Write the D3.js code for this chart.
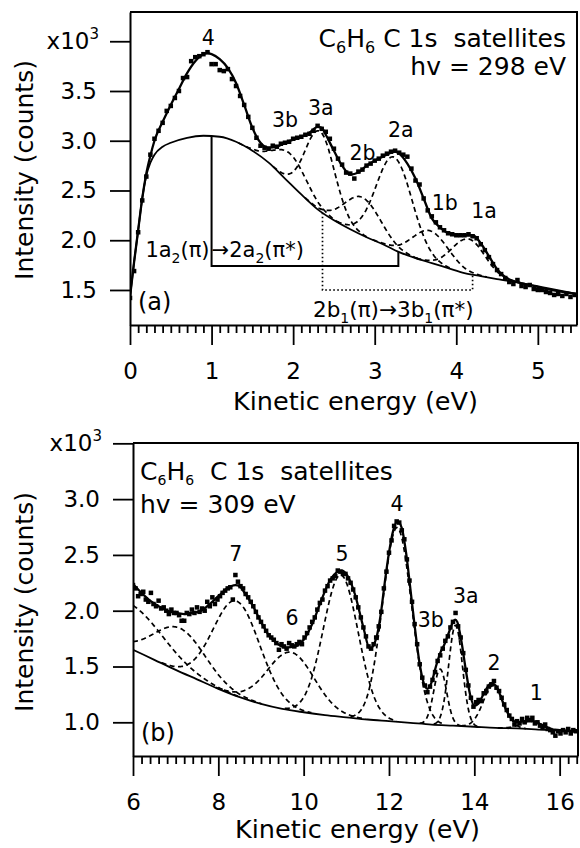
<!DOCTYPE html>
<html>
<head>
<meta charset="utf-8">
<script src="https://cdn.jsdelivr.net/npm/d3@7"></script>
<style>
body { margin: 0; background: #fff; }
text { font-family: "DejaVu Sans", sans-serif; fill: #000; }
</style>
</head>
<body>
<div id="viz"></div>
<script>
var width = 580
var height = 848

// ---------- panel (a): hv = 298 eV, counts x10^3 ----------
var aStep = 0.05
var aCounts = [1.42,1.69,2.08,2.40,2.64,2.86,3.02,3.10,3.18,3.30,
    3.35,3.43,3.50,3.63,3.64,3.80,3.84,3.85,3.87,3.89,
    3.77,3.77,3.71,3.70,3.72,3.62,3.55,3.45,3.36,3.24,
    3.13,3.03,2.95,2.93,2.92,2.95,2.94,2.97,2.98,2.99,
    3.02,3.03,3.04,3.06,3.07,3.10,3.15,3.12,3.09,3.02,
    2.92,2.82,2.76,2.68,2.67,2.62,2.69,2.71,2.75,2.77,
    2.80,2.82,2.85,2.87,2.89,2.90,2.88,2.86,2.84,2.72,
    2.60,2.56,2.42,2.30,2.24,2.18,2.13,2.10,2.07,2.06,
    2.05,2.05,2.05,2.06,2.04,2.02,1.96,1.90,1.83,1.76,
    1.70,1.66,1.62,1.58,1.56,1.60,1.54,1.53,1.55,1.51,
    1.50,1.50,1.48,1.47,1.45,1.46,1.44,1.46,1.43,1.45]
var aFitE = [0,0.05,0.1,0.15,0.2,0.25,0.3,0.4,0.5,0.6,0.7,0.8,0.9,0.95,1.0,1.1,1.2,1.3,1.4,1.5,1.6,1.7,1.8,1.9,2.0,2.1,2.2,2.3,2.35,2.4,2.5,2.6,2.7,2.8,2.9,3.0,3.1,3.2,3.25,3.3,3.4,3.5,3.6,3.7,3.8,3.9,4.0,4.1,4.2,4.3,4.4,4.5,4.6,4.7,4.9,5.1,5.3,5.48]
var aFitI = [1.43,1.78,2.10,2.42,2.67,2.85,3.00,3.19,3.36,3.52,3.68,3.80,3.87,3.88,3.87,3.82,3.73,3.58,3.36,3.13,2.98,2.93,2.94,2.98,3.01,3.04,3.08,3.14,3.13,3.06,2.90,2.75,2.66,2.68,2.75,2.80,2.84,2.88,2.89,2.87,2.77,2.62,2.42,2.22,2.13,2.07,2.05,2.05,2.05,1.97,1.84,1.71,1.63,1.59,1.55,1.51,1.48,1.46]
var aBgE = [0,0.05,0.1,0.15,0.2,0.25,0.3,0.4,0.5,0.7,0.9,1.1,1.3,1.5,1.7,1.9,2.1,2.3,2.5,2.7,2.9,3.1,3.3,3.5,3.7,3.9,4.1,4.3,4.5,4.8,5.1,5.48]
var aBgI = [1.43,1.78,2.10,2.42,2.65,2.78,2.86,2.94,2.98,3.03,3.05,3.04,2.99,2.90,2.78,2.62,2.46,2.31,2.20,2.11,2.03,1.96,1.88,1.82,1.77,1.72,1.67,1.64,1.61,1.57,1.52,1.46]
// fitted satellite components (centre eV, height above background, gaussian width)
var aCompCenter = [1.97, 2.33, 2.85, 3.24, 3.68, 4.15]
var aCompHeight = [0.30, 0.80, 0.38, 0.93, 0.32, 0.35]
var aCompWidth = [0.20, 0.18, 0.22, 0.22, 0.22, 0.20]
var aPeakNames = ["4", "3b", "3a", "2b", "2a", "1b", "1a"]
var aXTicks = [0, 1, 2, 3, 4, 5]
var aYTicks = [1.5, 2.0, 2.5, 3.0, 3.5, 4.0]

// ---------- panel (b): hv = 309 eV ----------
var bStart = 6.0
var bStep = 0.06
var bCounts = [2.23,2.20,2.13,2.15,2.17,2.10,2.08,2.16,2.06,2.04,
    2.09,2.02,2.03,2.00,1.97,2.01,1.98,1.98,1.96,1.91,
    1.91,1.98,1.97,2.01,1.98,2.03,1.99,2.02,2.00,2.08,
    2.04,2.12,2.06,2.10,2.13,2.16,2.18,2.20,2.21,2.10,
    2.32,2.26,2.22,2.20,2.15,2.12,2.08,2.04,1.99,1.94,
    1.90,1.86,1.82,1.78,1.76,1.74,1.71,1.65,1.70,1.68,
    1.66,1.71,1.69,1.68,1.70,1.72,1.70,1.76,1.80,1.85,
    1.90,1.94,2.01,2.07,2.10,2.18,2.22,2.27,2.29,2.31,
    2.36,2.35,2.33,2.33,2.29,2.25,2.19,2.12,2.03,1.94,
    1.85,1.77,1.68,1.66,1.70,1.76,1.86,1.99,2.20,2.35,
    2.52,2.63,2.76,2.80,2.79,2.72,2.64,2.46,2.27,2.08,
    1.88,1.70,1.52,1.40,1.33,1.27,1.32,1.38,1.45,1.55,
    1.60,1.66,1.73,1.77,1.85,1.90,1.98,1.86,1.76,1.62,
    1.47,1.33,1.22,1.14,1.18,1.20,1.19,1.26,1.28,1.32,
    1.34,1.37,1.31,1.28,1.22,1.16,1.11,1.06,1.03,0.98,
    1.01,0.99,1.03,1.00,1.04,1.02,1.04,0.99,1.00,0.97,
    0.95,0.98,0.94,0.93,0.91,0.88,0.92,0.90,0.93,0.91,
    0.94,0.90,0.93,0.92]
var bFitE = [6.0,6.2,6.4,6.6,6.8,7.0,7.2,7.4,7.6,7.8,8.0,8.2,8.4,8.5,8.6,8.8,9.0,9.2,9.4,9.6,9.8,10.0,10.2,10.4,10.6,10.8,10.9,11.0,11.2,11.4,11.55,11.7,11.8,11.9,12.0,12.1,12.2,12.3,12.4,12.5,12.6,12.7,12.8,12.9,13.0,13.1,13.2,13.3,13.4,13.5,13.55,13.6,13.7,13.8,13.9,14.0,14.1,14.2,14.3,14.4,14.5,14.6,14.7,14.8,14.9,15.0,15.2,15.4,15.6,15.8,16.0,16.43]
var bFitI = [2.24,2.16,2.09,2.04,2.00,1.98,1.97,1.98,2.00,2.06,2.13,2.20,2.23,2.22,2.17,2.05,1.90,1.77,1.70,1.67,1.68,1.74,1.88,2.08,2.26,2.35,2.36,2.33,2.15,1.85,1.66,1.75,1.95,2.25,2.52,2.72,2.80,2.74,2.52,2.20,1.87,1.57,1.37,1.30,1.36,1.50,1.62,1.70,1.80,1.90,1.92,1.90,1.72,1.47,1.25,1.15,1.17,1.24,1.31,1.35,1.33,1.25,1.15,1.07,1.02,1.00,1.01,1.01,0.97,0.94,0.93,0.92]
var bBgE = [6.0,6.5,7.0,7.5,8.0,8.5,9.0,9.5,10.0,10.5,11.0,11.5,12.0,12.5,13.0,13.5,14.0,14.5,15.0,15.5,16.0,16.43]
var bBgI = [1.65,1.56,1.47,1.385,1.30,1.225,1.165,1.12,1.09,1.065,1.045,1.025,1.01,0.995,0.98,0.97,0.96,0.95,0.945,0.935,0.925,0.915]
var bCompCenter = [5.9, 7.1, 8.43, 9.7, 10.87, 12.19, 13.2, 13.56, 14.45, 15.35]
var bCompHeight = [0.40, 0.39, 0.85, 0.52, 1.27, 1.74, 0.50, 0.90, 0.38, 0.07]
var bCompWidth = [0.80, 0.60, 0.55, 0.55, 0.41, 0.34, 0.15, 0.16, 0.24, 0.25]
var bPeakNames = ["7", "6", "5", "4", "3b", "3a", "2", "1"]
var bXTicks = [6, 8, 10, 12, 14, 16]
var bYTicks = [1.0, 1.5, 2.0, 2.5, 3.0, 3.5]

var svg = d3
    .select("#viz")
    .append("svg")
    .attr("width", width)
    .attr("height", height);

// text with sub/superscript pieces: [string, "sub"|"sup"|undefined]
function richText(sel, parts, small, subShift) {
    var shift = 0;
    var down = subShift || 6;
    parts.forEach(function (p) {
        var t = sel.append("tspan").text(p[0]);
        var want = p[1] == "sub" ? down : (p[1] == "sup" ? -10 : 0);
        if (want != shift) t.attr("dy", want - shift);
        if (p[1]) t.attr("font-size", small);
        shift = want;
    });
    return sel;
}

function addPanel(o) {
    var x = o.x, y = o.y;
    var x0 = x.range()[0], x1 = x.range()[1];
    var yb = y.range()[0], yt = y.range()[1];
    var g = svg.append("g");

    svg.append("clipPath").attr("id", "clip" + o.id)
        .append("rect")
        .attr("x", x0).attr("y", yt)
        .attr("width", x1 - x0).attr("height", yb - yt);
    var plot = g.append("g").attr("clip-path", "url(#clip" + o.id + ")");

    var bgAt = d3.scaleLinear().domain(o.bgE).range(o.bgI);
    var line = d3.line()
        .x(function (d) { return x(d[0]); })
        .y(function (d) { return y(d[1]); })
        .curve(d3.curveMonotoneX);

    // background
    plot.append("path")
        .datum(d3.zip(o.bgE, o.bgI))
        .attr("d", line)
        .attr("fill", "none")
        .attr("stroke", "#000")
        .attr("stroke-width", 1.8);

    // dashed components sitting on the background
    o.compCenter.forEach(function (c, i) {
        var s = o.compWidth[i], h = o.compHeight[i];
        var lo = Math.max(x.domain()[0], c - 3.2 * s);
        var hi = Math.min(x.domain()[1], c + 3.2 * s);
        var pts = d3.range(lo, hi, 0.01).map(function (e) {
            return [e, bgAt(e) + h * Math.exp(-(e - c) * (e - c) / (2 * s * s))];
        });
        plot.append("path")
            .datum(pts)
            .attr("d", line)
            .attr("fill", "none")
            .attr("stroke", "#000")
            .attr("stroke-width", 1.7)
            .attr("stroke-dasharray", "5,3.5");
    });

    // total fit
    plot.append("path")
        .datum(d3.zip(o.fitE, o.fitI))
        .attr("d", line)
        .attr("fill", "none")
        .attr("stroke", "#000")
        .attr("stroke-width", 2.3);

    // measured points
    plot.selectAll("rect.pt")
        .data(o.points)
        .join("rect")
        .attr("class", "pt")
        .attr("x", function (d) { return x(d[0]) - 2.25; })
        .attr("y", function (d) { return y(d[1]) - 2.25; })
        .attr("width", 4.5)
        .attr("height", 4.5)
        .attr("fill", "#000");

    // frame top + right
    g.append("path")
        .attr("d", "M" + x0 + "," + yt + "H" + x1 + "V" + yb)
        .attr("fill", "none")
        .attr("stroke", "#000")
        .attr("stroke-width", 2);

    // axes
    g.append("g")
        .attr("transform", "translate(0," + yb + ")")
        .call(d3.axisBottom(x).tickValues(o.xTicks).tickSize(20).tickSizeOuter(0)
            .tickPadding(18).tickFormat(d3.format("d")));
    g.append("g")
        .attr("transform", "translate(0," + yb + ")")
        .call(d3.axisBottom(x).tickValues(o.xMinor).tickSize(8).tickFormat(""))
        .call(function (a) { a.select(".domain").remove(); });
    var top = o.yTicks[o.yTicks.length - 1];
    g.append("g")
        .attr("transform", "translate(" + x0 + ",0)")
        .call(d3.axisLeft(y).tickValues(o.yTicks).tickSize(20).tickSizeOuter(0)
            .tickPadding(13)
            .tickFormat(function (d) { return d == top ? "" : d3.format(".1f")(d); }));
    g.selectAll(".domain").attr("stroke-width", 2);
    g.selectAll(".tick line").attr("stroke-width", 1.8);
    g.selectAll(".tick text").attr("font-size", 23).attr("font-family", "DejaVu Sans");

    richText(g.append("text")
        .attr("x", x0 - 31)
        .attr("y", y(top) + 8)
        .attr("text-anchor", "end")
        .attr("font-size", 23), [["x10"], ["3", "sup"]], 15);

    // axis titles
    g.append("text")
        .attr("transform", "translate(33," + o.yTitleY + ") rotate(-90)")
        .attr("text-anchor", "middle")
        .attr("font-size", 25)
        .text("Intensity (counts)");
    g.append("text")
        .attr("x", (x0 + x1) / 2 + 2)
        .attr("y", yb + o.xTitleGap)
        .attr("text-anchor", "middle")
        .attr("font-size", 25.5)
        .text("Kinetic energy (eV)");

    // peak labels
    o.peakNames.forEach(function (n, i) {
        g.append("text")
            .attr("x", x(o.labelAt[i][0]))
            .attr("y", y(o.labelAt[i][1]))
            .attr("text-anchor", "middle")
            .attr("font-size", 20.5)
            .text(n);
    });

    g.append("text")
        .attr("x", x0 + 8)
        .attr("y", yb - 15)
        .attr("font-size", 24)
        .text(o.tag);

    return {g: g, bgAt: bgAt};
}

var xA = d3.scaleLinear().domain([0, 5.48]).range([130, 577])
var yA = d3.scaleLinear().domain([1.148, 4.294]).range([325, 12])
var xB = d3.scaleLinear().domain([6, 16.43]).range([133, 578])
var yB = d3.scaleLinear().domain([0.698, 3.503]).range([756, 443])

var pa = addPanel({
    id: "a", x: xA, y: yA, tag: "(a)",
    points: aCounts.map(function (v, i) { return [i * aStep, v]; }),
    fitE: aFitE, fitI: aFitI, bgE: aBgE, bgI: aBgI,
    compCenter: aCompCenter, compHeight: aCompHeight, compWidth: aCompWidth,
    peakNames: aPeakNames,
    labelAt: [[0.96, 3.96], [1.90, 3.14], [2.34, 3.26], [2.85, 2.81], [3.32, 3.04], [3.86, 2.30], [4.34, 2.22]],
    xTicks: aXTicks, xMinor: d3.range(0, 5.45, 0.1).filter(function (d) { return Math.abs(d - Math.round(d)) > 0.01; }),
    yTicks: aYTicks, yTitleY: 170, xTitleGap: 85
});

var pb = addPanel({
    id: "b", x: xB, y: yB, tag: "(b)",
    points: bCounts.map(function (v, i) { return [bStart + i * bStep, v]; }),
    fitE: bFitE, fitI: bFitI, bgE: bBgE, bgI: bBgI,
    compCenter: bCompCenter, compHeight: bCompHeight, compWidth: bCompWidth,
    peakNames: bPeakNames,
    labelAt: [[8.41, 2.45], [9.73, 1.87], [10.90, 2.45], [12.19, 2.89], [12.98, 1.85], [13.80, 2.07], [14.46, 1.47], [15.45, 1.20]],
    xTicks: bXTicks, xMinor: d3.range(6, 16.42, 0.2).filter(function (d) { return Math.abs(d / 2 - Math.round(d / 2)) > 0.01; }),
    yTicks: bYTicks, yTitleY: 602, xTitleGap: 82
});

// titles
richText(pa.g.append("text").attr("x", 566).attr("y", 47).attr("text-anchor", "end")
    .attr("font-size", 25).style("white-space", "pre"),
    [["C"], ["6", "sub"], ["H"], ["6", "sub"], [" C 1s  satellites"]], 16);
pa.g.append("text").attr("x", 566).attr("y", 75).attr("text-anchor", "end")
    .attr("font-size", 25).text("hv = 298 eV");
richText(pb.g.append("text").attr("x", 140).attr("y", 480)
    .attr("font-size", 25).style("white-space", "pre"),
    [["C"], ["6", "sub"], ["H"], ["6", "sub"], ["  C 1s  satellites"]], 14, 5);
pb.g.append("text").attr("x", 140).attr("y", 513)
    .attr("font-size", 25).text("hv = 309 eV");

// transition brackets in (a)
var aTransE = [[1.0, 3.29], [2.36, 4.2]]
var aTransLevel = [1.74, 1.5]
aTransE.forEach(function (t, i) {
    var lv = yA(aTransLevel[i]);
    pa.g.append("path")
        .attr("d", "M" + xA(t[0]) + "," + yA(pa.bgAt(t[0])) + "V" + lv + "H" + xA(t[1]) + "V" + yA(pa.bgAt(t[1])))
        .attr("fill", "none")
        .attr("stroke", "#000")
        .attr("stroke-width", i == 0 ? 2 : 1.7)
        .attr("stroke-dasharray", i == 0 ? null : "1.7,2.3");
});
richText(pa.g.append("text").attr("x", xA(1.0) - 2).attr("y", 257).attr("text-anchor", "end").attr("font-size", 21),
    [["1a"], ["2", "sub"], ["(\u03c0)"]], 14);
richText(pa.g.append("text").attr("x", xA(1.0)).attr("y", 257).attr("font-size", 21),
    [["\u21922a"], ["2", "sub"], ["(\u03c0*)"]], 14);
richText(pa.g.append("text").attr("x", 313).attr("y", 317).attr("font-size", 21.5),
    [["2b"], ["1", "sub"], ["(\u03c0)\u21923b"], ["1", "sub"], ["(\u03c0*)"]], 14);
</script>
</body>
</html>
